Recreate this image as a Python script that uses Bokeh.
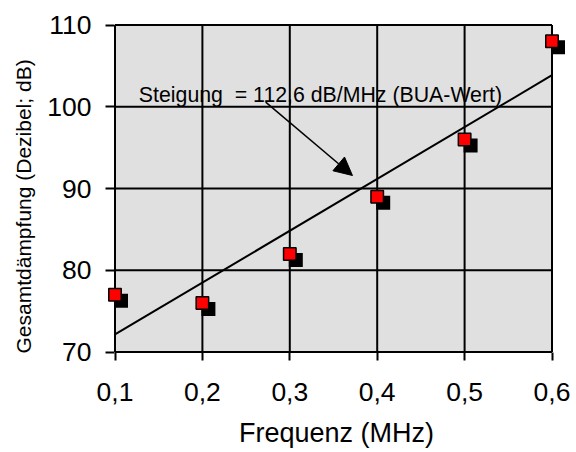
import numpy as np
from bokeh.plotting import figure
from bokeh.models import ColumnDataSource, FixedTicker, Label, Arrow, NormalHead, Range1d, Title
from bokeh.transform import dodge
from bokeh.embed import file_html
from bokeh.resources import INLINE

# ---- data ----
freq = [0.1, 0.2, 0.3, 0.4, 0.5, 0.6]          # MHz
atten = [77, 76, 82, 89, 96, 108]              # dB
x_ticks = [0.1, 0.2, 0.3, 0.4, 0.5, 0.6]
x_tick_labels = ["0,1", "0,2", "0,3", "0,4", "0,5", "0,6"]
y_ticks = [70, 80, 90, 100, 110]
slope_text = "Steigung \u00a0= 112,6 dB/MHz (BUA-Wert)"
x_title = "Frequenz (MHz)"
y_title = "Gesamtdämpfung (Dezibel; dB)"

FONT = "Liberation Sans"
W, H = 576, 452
FL, FR, FT, FB = 106, 566, 23, 353          # frame edges (px)
GL, GR, GT, GB = 114.5, 551.5, 24.5, 351.5  # grey plot area edges (px)

xmin, xmax = min(x_ticks), max(x_ticks)
ymin, ymax = min(y_ticks), max(y_ticks)
sx = (GR - GL) / (xmax - xmin)
sy = (GB - GT) / (ymax - ymin)

p = figure(width=W, height=H, output_backend="svg", toolbar_location=None,
           x_range=Range1d(xmin - (GL - FL) / sx, xmax + (FR - GR) / sx),
           y_range=Range1d(ymin - (FB - GB) / sy, ymax + (GT - FT) / sy))
p.min_border_left = FL
p.min_border_right = W - FR
p.min_border_top = FT
p.min_border_bottom = H - FB
p.background_fill_color = "white"
p.border_fill_color = "white"
p.outline_line_color = None
p.xgrid.visible = False
p.ygrid.visible = False

# grey plot area and black grid
p.quad(left=xmin, right=xmax, bottom=ymin, top=ymax, fill_color="#e0e0e0", line_color=None)
p.segment(x0=x_ticks, y0=[ymin] * len(x_ticks), x1=x_ticks, y1=[ymax] * len(x_ticks),
          line_color="black", line_width=2)
p.segment(x0=[xmin] * len(y_ticks), y0=y_ticks, x1=[xmax] * len(y_ticks), y1=y_ticks,
          line_color="black", line_width=2)

p.xaxis.ticker = FixedTicker(ticks=x_ticks)
p.xaxis.major_label_overrides = {t: l for t, l in zip(x_ticks, x_tick_labels)}
p.yaxis.ticker = FixedTicker(ticks=y_ticks)

for ax in (p.xaxis, p.yaxis):
    ax.axis_line_color = None
    ax.major_tick_line_color = "black"
    ax.major_tick_line_width = 2
    ax.minor_tick_line_color = None
    ax.major_label_text_font = FONT
    ax.major_label_text_font_size = "26.5px"
    ax.major_label_text_color = "black"
p.xaxis.major_tick_in = 1
p.xaxis.major_tick_out = 7
p.yaxis.major_tick_in = 8
p.yaxis.major_tick_out = 1
p.xaxis.major_label_standoff = 22
p.yaxis.major_label_standoff = 14

p.xaxis.axis_label = x_title
p.xaxis.axis_label_text_font = FONT
p.xaxis.axis_label_text_font_size = "27px"
p.xaxis.axis_label_text_font_style = "normal"
p.xaxis.axis_label_text_color = "black"
p.xaxis.axis_label_standoff = 14

p.add_layout(Title(text=y_title, align="left", offset=0, standoff=18, vertical_align="middle",
                   text_font=FONT, text_font_size="21px", text_font_style="normal",
                   text_color="black"), "left")

# regression line from the data
k, d = np.polyfit(freq, atten, 1)
xs = np.array([min(freq), max(freq)])
p.line(xs, k * xs + d, line_color="black", line_width=2)

src = ColumnDataSource(data=dict(x=freq, y=atten))
p.scatter(x=dodge("x", 6 / sx, range=p.x_range), y=dodge("y", -6 / sy, range=p.y_range),
          source=src, marker="square", size=14, fill_color="black", line_color=None)
p.scatter("x", "y", source=src, marker="square", size=12.5, fill_color="#ff0000",
          line_color="black", line_width=1.5)

p.add_layout(Label(x=0.1273, y=101.38, text=slope_text, text_font=FONT,
                   text_font_size="21.3px", text_color="black",
                   text_align="left", text_baseline="alphabetic"))
p.add_layout(Arrow(x_start=0.2724, y_start=100.56, x_end=0.3717, y_end=91.59,
                   line_color="black", line_width=1.5,
                   end=NormalHead(size=18, fill_color="black", line_color="black", line_width=1)))

open("out.html", "w").write(file_html(p, INLINE))
